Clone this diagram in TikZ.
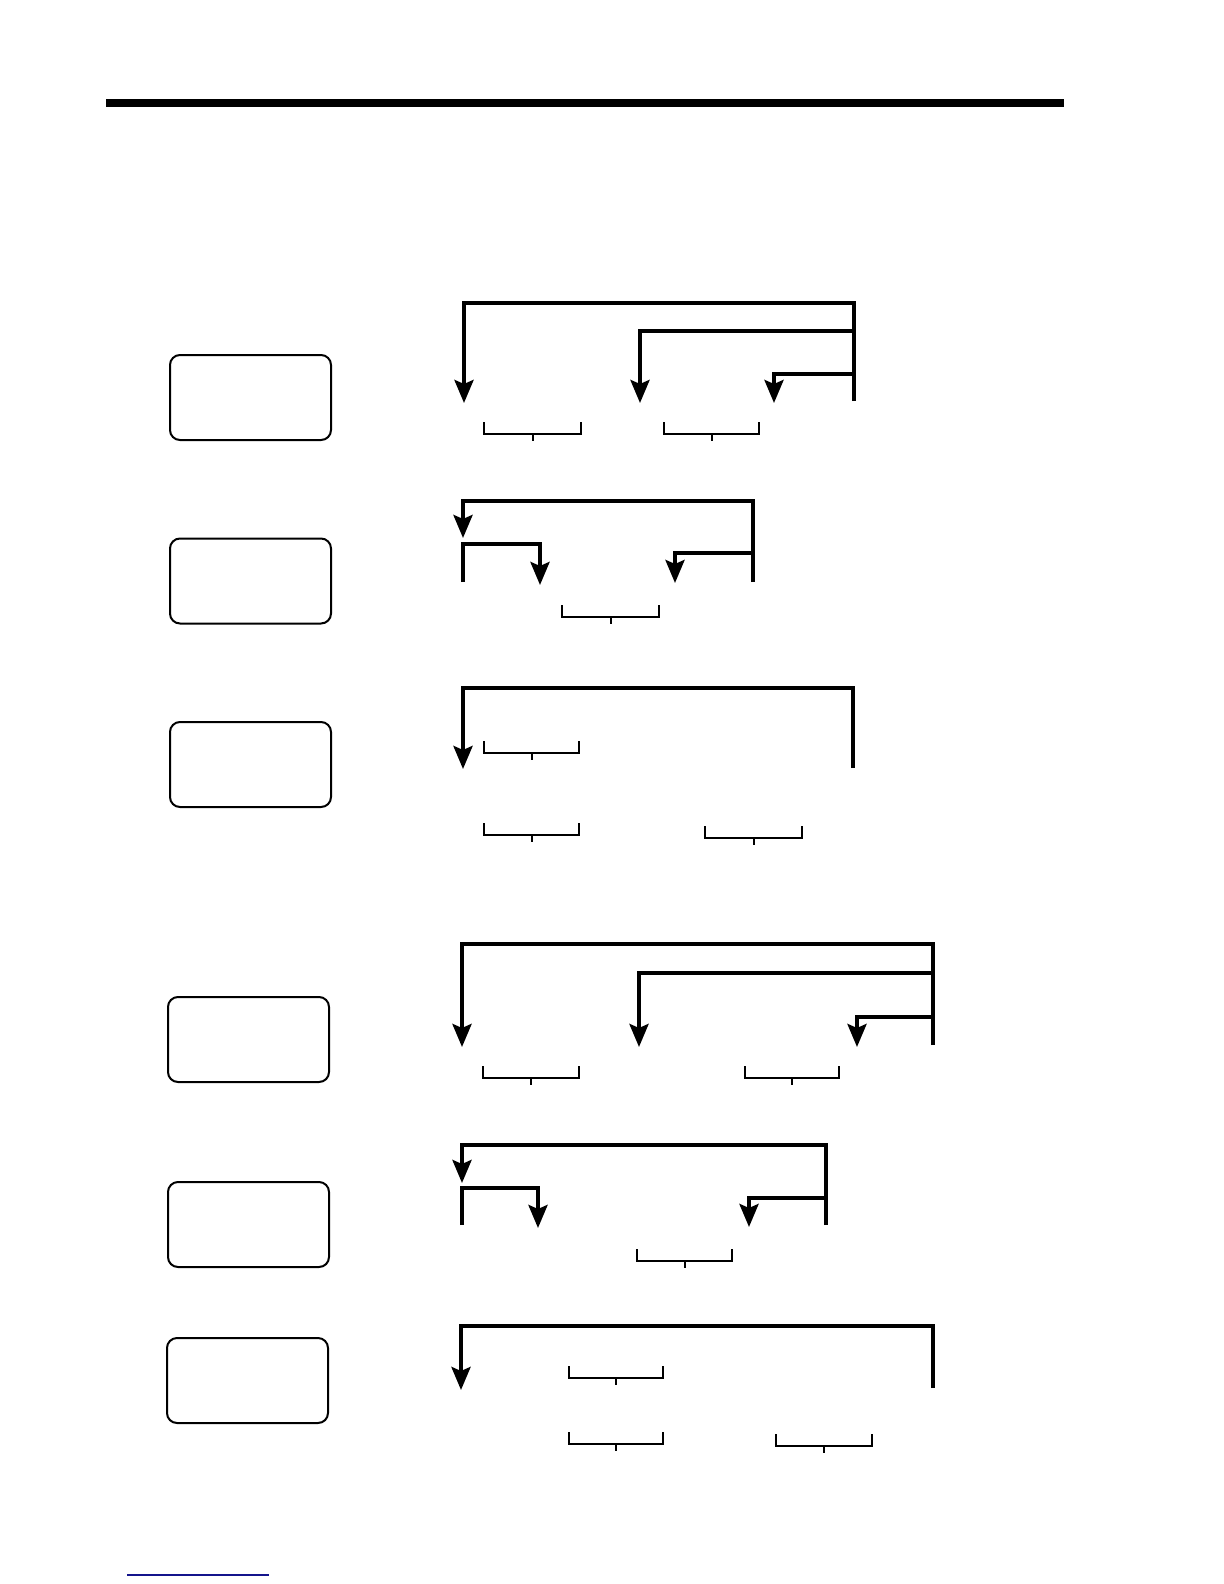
\documentclass[tikz,border=0pt]{standalone}
\usetikzlibrary{arrows.meta}
\definecolor{footBlue}{RGB}{20,20,140}

\begin{document}
\begin{tikzpicture}
[x=0.5pt,y=-0.5pt,
  flowArrow/.style={-{Stealth[length=11.5pt,width=9.5pt,inset=2pt]},line width=2pt,line join=miter},%
  panelDecorate/.style={shape=rectangle,rounded corners=5pt,draw,line width=1pt,
    minimum width=80.5pt,minimum height=42.5pt,inner sep=0pt},%
  bracketDecorate/.style={-,line width=1pt}]
\useasboundingbox (0,0) rectangle (1224,1584);
%% heading rule
\draw[line width=4pt] (106,103) -- (1064,103);
%% display panels
\foreach \nodename/\x/\y in {
  panelA/250.5/397.5, panelB/250.5/581, panelC/250.5/764.5,
  panelD/248.5/1039.5, panelE/248.5/1224.5, panelF/247.5/1380.5}
{
  \node (\nodename) at (\x,\y) [panelDecorate] {};
}
%% brackets under the loops
\foreach \xa/\xb/\ya in {
  484/581/422, 664/759/422, 562/659/605,
  484/579/741, 484/579/823, 705/802/826,
  483/579/1066, 745/839/1066, 637/732/1249,
  569/663/1366, 569/663/1432, 776/872/1434}
{
  \draw[bracketDecorate] (\xa,\ya) -- (\xa,\ya+12) -- (\xb,\ya+12) -- (\xb,\ya);
  \draw[bracketDecorate] ({(\xa+\xb)/2},\ya+12) -- ++(0,7);
}
%% first loop
\draw[flowArrow] (854,401) |- (464,303) -- (464,403);
\draw[flowArrow] (854,331) -| (640,403);
\draw[flowArrow] (854,374) -| (774,403);
%% second loop
\draw[flowArrow] (753,582) |- (463,501) -- (463,538);
\draw[flowArrow] (463,582) |- (540,544) -- (540,585);
\draw[flowArrow] (753,553) -| (675,583);
%% third loop
\draw[flowArrow] (853,768) |- (463,688) -- (463,769);
%% fourth loop
\draw[flowArrow] (933,1045) |- (462,944) -- (462,1047);
\draw[flowArrow] (933,973) -| (639,1047);
\draw[flowArrow] (933,1017) -| (857,1047);
%% fifth loop
\draw[flowArrow] (826,1225) |- (462,1145) -- (462,1183);
\draw[flowArrow] (462,1225) |- (538,1188) -- (538,1228);
\draw[flowArrow] (826,1198) -| (749,1227);
%% sixth loop
\draw[flowArrow] (933,1388) |- (461,1326) -- (461,1390);
%% footer rule
\draw[footBlue,line width=0.8pt] (127,1575) -- (269,1575);
\end{tikzpicture}
\end{document}
